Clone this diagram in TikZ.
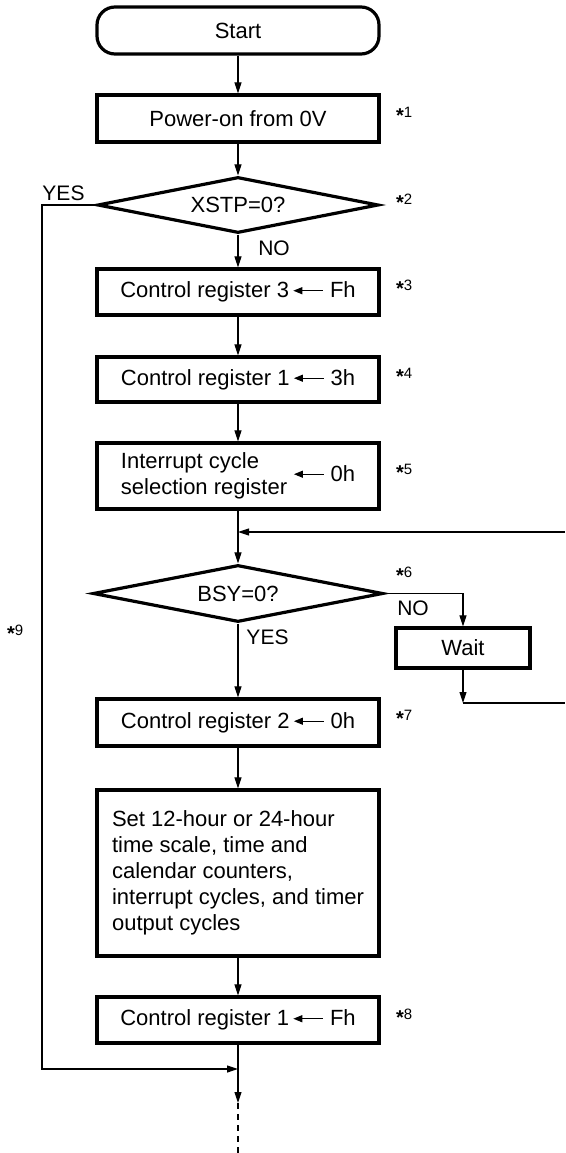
\documentclass[tikz,border=0pt]{standalone}
\usepackage{fontspec}
\setmainfont{Liberation Sans}
\usetikzlibrary{shapes, arrows.meta, positioning, calc}

\newcommand{\loadarrow}{\tikz[baseline=-0.6ex]\draw[{Triangle[length=9pt,width=7pt]}-, line width=1.2pt] (0pt,0pt) -- (30pt,0pt);}
\newcommand{\notemark}{\raisebox{-5.5pt}{\fontsize{20}{20}\selectfont\textbf{*}}}

\begin{document}
\begin{tikzpicture}[x=1pt, y=-1pt,
  stepbox/.style={draw, line width=3.2pt, minimum width=282pt, minimum height=46pt, inner sep=0pt, font=\fontsize{22}{26}\selectfont, align=center},
  termbox/.style={stepbox, rounded corners=18pt},
  decbox/.style={draw, diamond, line width=3.2pt, aspect=5, inner sep=0pt, font=\fontsize{22}{26}\selectfont},
  flow/.style={-{Triangle[length=11pt,width=7pt]}, line width=1.1pt},
  link/.style={line width=1.1pt},
  note/.style={anchor=west, inner sep=0pt, font=\fontsize{15}{18}\selectfont},
  tag/.style={inner sep=0pt, font=\fontsize{21}{24}\selectfont}
]
  \useasboundingbox (0,0) rectangle (565,1153);

  % main column
  \node[termbox, minimum height=47pt] (start) at (238,30.5) {Start};
  \node[stepbox, minimum height=47pt] (power) at (238,118.5) {Power-on from 0V};
  \node[decbox, minimum width=281pt, minimum height=56pt] (xstp) at (238,205) {XSTP=0?};
  \node[stepbox] (cr3) at (238,292) {Control register 3\,\loadarrow\ Fh};
  \node[stepbox, minimum height=45pt] (cr1) at (238,379.5) {Control register 1\,\loadarrow\ 3h};
  \node[stepbox, minimum height=66pt] (intsel) at (238,476) {\begin{tabular}{@{}l@{}}Interrupt cycle\\selection register\end{tabular}\ \loadarrow\ 0h};
  \node[decbox, minimum width=290pt, minimum height=57pt] (bsy) at (238,593.5) {BSY=0?};
  \node[stepbox, minimum width=134pt, minimum height=40pt] (wait) at (463,648) {Wait};
  \node[stepbox, minimum height=47pt] (cr2) at (238,722.5) {Control register 2\,\loadarrow\ 0h};
  \node[stepbox, minimum height=166pt, align=left] (setup) at (238,873) {Set 12-hour or 24-hour\\time scale, time and\\calendar counters,\\interrupt cycles, and timer\\output cycles};
  \node[stepbox] (cr1f) at (238,1020) {Control register 1\,\loadarrow\ Fh};

  % branch labels
  \node[tag] (yes1) at (63.5,193) {YES};
  \node[tag] (no1) at (274,248) {NO};
  \node[tag] (no2) at (413,608) {NO};
  \node[tag] (yes2) at (267.5,637) {YES};

  % notes
  \node[note] (n1) at (396,115) {\notemark1};
  \node[note] (n2) at (396,202) {\notemark2};
  \node[note] (n3) at (396,288) {\notemark3};
  \node[note] (n4) at (396,376) {\notemark4};
  \node[note] (n5) at (396,472) {\notemark5};
  \node[note] (n6) at (396,575) {\notemark6};
  \node[note] (n7) at (396,718) {\notemark7};
  \node[note] (n8) at (396,1017) {\notemark8};
  \node[note] (n9) at (7,633) {\notemark9};

  \coordinate (back) at (238,532);
  \coordinate (loopin) at (565,532);
  \coordinate (loopout) at (565,703);
  \coordinate (yesturn) at (42,205);
  \coordinate (join) at (238,1069);
  \coordinate (tail) at (238,1103);
  \coordinate (bottom) at (238,1153);

  \draw[flow] (start) -- (power);
  \draw[flow] (power) -- (xstp);
  \draw[flow] (xstp) -- (cr3);
  \draw[flow] (cr3) -- (cr1);
  \draw[flow] (cr1) -- (intsel);
  \draw[flow] (intsel) -- (bsy);
  \draw[flow] (loopin) -- (back);
  \draw[flow] (bsy.east) -| (wait);
  \draw[flow] (wait) -- (wait |- loopout);
  \draw[link] (wait |- loopout) -- (loopout);
  \draw[flow] (bsy) -- (cr2);
  \draw[flow] (cr2) -- (setup);
  \draw[flow] (setup) -- (cr1f);
  \draw[flow] (cr1f) -- (tail);
  \draw[link, dash pattern=on 6pt off 5pt] (tail) -- (bottom);
  \draw[flow] (xstp.west) -- (yesturn) |- (join);
\end{tikzpicture}
\end{document}
